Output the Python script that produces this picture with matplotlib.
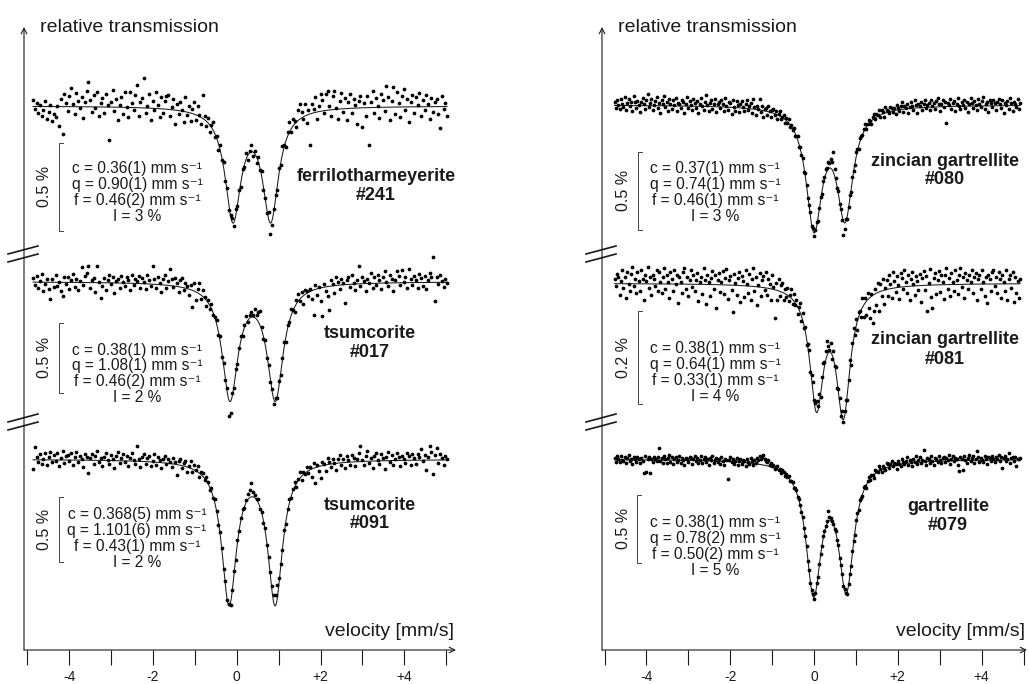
import numpy as np
import matplotlib.pyplot as plt

plt.rcParams['font.family'] = ['Liberation Sans', 'DejaVu Sans']

# --- data -------------------------------------------------------------
# six spectra: left column top->bottom, then right column top->bottom
names = ['ferrilotharmeyerite', 'tsumcorite', 'tsumcorite',
         'zincian gartrellite', 'zincian gartrellite', 'gartrellite']
numbers = ['#241', '#017', '#091', '#080', '#081', '#079']
c_txt = ['0.36(1)', '0.38(1)', '0.368(5)', '0.37(1)', '0.38(1)', '0.38(1)']
q_txt = ['0.90(1)', '1.08(1)', '1.101(6)', '0.74(1)', '0.64(1)', '0.78(2)']
f_txt = ['0.46(2)', '0.46(2)', '0.43(1)', '0.46(1)', '0.33(1)', '0.50(2)']
i_txt = ['3', '2', '2', '3', '4', '5']
scale_bar = [0.5, 0.5, 0.5, 0.5, 0.2, 0.5]  # % transmission

# fitted doublets (mm/s, %), as drawn
c_val = [0.36, 0.38, 0.368, 0.37, 0.38, 0.38]
q_val = [0.90, 1.08, 1.101, 0.74, 0.64, 0.78]
w_val = [0.46, 0.46, 0.43, 0.46, 0.40, 0.44]
depth1 = [0.627, 0.821, 1.088, 0.759, 0.254, 0.955]
depth2 = [0.627, 0.821, 1.088, 0.689, 0.271, 0.925]

# velocity channels (start, stop, count) for each column
vel_left = (-4.86, 5.02, 240)
vel_right = (-4.76, 4.92, 320)

# measured points, deviation from the fit in 0.001 %
res_241 = [
    35, -15, 20, -40, 10, -55, -20, 30, -70, -30, 10, -85, -45, -60, 5, -110, 45, -155, 70, 20,
    -25, 60, 105, 15, -40, 80, 35, -10, 55, -65, 25, 90, 140, 40, -30, 65, -5, 85, -50, 20,
    50, -35, 75, 10, -190, 30, 95, -20, 45, -75, 15, 60, -40, 85, 5, -55, 90, 25, -15, 70,
    130, -45, 35, 55, 170, -30, 10, 80, -65, 40, -10, 95, 20, -50, 65, -25, 45, 75, 80, -35,
    15, 60, -80, 35, -20, 50, 5, -60, 85, -15, 40, -45, 25, 70, -30, 55, 10, -40, 135, 20,
    -25, 30, -40, 15, 45, -20, 10, -35, 25, -10, 30, -15, 20, -30, 5, 25, -20, 35, -5, 15,
    -30, 20, -15, 35, -25, 10, 40, -20, 15, -35, 25, -10, 30, -20, 5, -15, 40, -60, -25, 15,
    20, -25, 30, -15, 45, 10, -35, 25, 55, -20, 40, 15, -30, 60, 85, 35, -10, 70, -45, 25,
    -178, 55, 20, 85, -40, 30, 100, 65, -15, 95, 110, 20, -35, 75, 105, 10, -55, 45, 90, -20,
    60, -65, 35, 80, -25, 50, 15, -90, 40, 70, -110, 25, -45, 65, -212, 30, 95, -30, 55, 10,
    -60, 75, 40, -20, 120, 55, -75, 35, 113, -40, 85, 20, -55, 60, 100, -15, 45, -85, 30, 70,
    -35, 55, 10, 80, -50, 40, -20, 65, 15, -70, 50, -30, 25, 45, -40, -120, 60, -15, 20, -55]
res_017 = [
    30, -20, 45, -40, 10, 55, -65, -15, 25, -50, -117, 20, -35, 50, -25, 5, -60, -100, 35, -10,
    40, -45, 15, 60, -30, 25, -55, 10, 107, -20, 45, 65, 120, -40, 15, 30, -65, 120, 5, -110,
    -25, 35, -50, 20, 55, -10, 40, -70, 15, 30, -35, 50, 10, -20, 45, 25, -45, 60, -15, 35,
    20, 55, -30, 40, 10, -40, 65, 25, -15, 130, 35, -25, 50, 15, -55, 40, 70, -20, 30, 115,
    45, -10, 60, 25, -35, 50, 70, -15, 40, 20, -45, 30, -120, 55, -60, 25, 80, -30, 45, 10,
    -40, 20, -25, 35, -15, 10, 30, -20, 40, -30, 15, -10, 25, -117, -80, 20, -15, 30, -25, 10,
    35, -20, 15, 50, -10, 25, 40, 15, 60, 30, 70, 100, 20, -15, 35, -25, 10, -20, 15, -30,
    25, -15, 30, -20, 10, 35, -40, 20, -10, 45, 5, -35, 25, 50, -15, 40, -55, 30, 15, -25,
    20, -60, -180, 35, -45, 10, -90, -200, 25, -30, -70, -170, 40, 15, -50, 60, 20, -25, 45, 10,
    -130, 35, 55, -20, 65, 10, -40, 30, 125, -15, 50, 20, -55, 35, 5, 75, -30, 45, -10, 60,
    25, -45, 40, 85, 10, -25, 55, 30, -60, 20, 85, 45, -15, 90, 5, 40, -35, 95, 25, -20,
    50, 15, -40, 60, 30, -25, 45, -50, 20, 70, 35, 180, -135, 40, -15, 55, 10, -30, 25, -5]
res_091 = [
    -70, 98, 20, -15, 45, -30, 10, 55, -40, 25, 60, -20, 35, -5, 50, -45, 15, 70, -25, 30,
    40, -10, 55, -35, 20, 65, -15, 30, 5, -50, 45, 25, -95, 15, 50, -25, 35, 75, -10, 20,
    -40, 30, 60, 5, -30, 45, 15, -55, 35, 70, -20, 25, 50, -10, 40, -35, 20, 60, 10, -25,
    118, 15, -40, 35, 55, -15, 25, 45, -30, 10, 65, -20, 40, 20, -45, 30, 55, -10, 35, 15,
    -25, 45, 20, -80, 30, 50, -15, 25, 40, -35, 15, 55, -20, 35, 10, 45, -30, 20, 25, -10,
    30, 15, -20, 25, -10, 35, 5, -25, 20, 10, -15, 30, -5, 15, -20, 10, 25, -15, 20, -10,
    15, 30, -10, 20, 45, 60, 108, 35, 20, 5, 30, -15, 10, -20, 25, -10, 15, 30, 45, 60,
    80, 100, 40, 15, -10, 25, -20, 15, 30, -15, 20, 35, -25, 10, 45, -30, 20, -5, 35, -15,
    25, -60, 40, -120, 15, -35, -90, 30, 10, -45, 50, 20, -25, 40, 5, -55, 35, 60, -15, 25,
    -40, 45, 15, -20, 55, 30, -35, 20, 65, 118, 10, -30, 40, 75, -15, 25, -50, 35, 60, 5,
    -25, 50, 20, -60, 30, 70, -10, 40, -35, 15, 55, 25, -45, 35, 10, -20, 60, 30, -40, 45,
    15, -30, 50, 25, 85, -10, 40, -75, 20, 110, 60, -108, 35, 90, -20, 45, 15, -35, 30, 10]
res_080 = [
    20, -15, 35, 5, -25, 40, 10, -10, 55, -30, 15, 45, -5, 25, -35, 60, 20, -15, 30, 5,
    -40, 25, 50, 10, -20, 35, 75, -10, 15, 40, -25, 5, 30, 55, -15, 20, -45, 35, 10, 65,
    -5, 25, -30, 45, 15, -20, 35, 5, 50, -35, 20, 10, -15, 40, 25, -45, 15, 60, -10, 30,
    5, -25, 45, 20, -10, 35, -40, 15, 55, 0, -20, 30, 75, 10, -30, 25, 40, -15, 20, 50,
    -35, 15, 30, -5, 45, 20, -25, 60, 10, -15, 35, 25, -40, 50, 5, -20, 40, 15, -30, 25,
    45, 10, -20, 30, 55, -10, 20, 40, -25, 64, 15, -35, 25, 5, 70, -15, 30, -40, 10, 20,
    -20, 35, 5, -30, 15, 25, -10, 20, -25, 10, 30, -15, 5, 20, -20, 15, -5, 25, -15, 10,
    -10, 20, -15, 5, 25, -20, 10, -5, 15, -25, 20, 5, -15, 10, 30, -10, 15, -20, 5, 25,
    -15, 10, 20, -10, 25, 15, 35, 20, 45, 30, 60, 50, 128, 40, 15, -10, 20, -15, 5, -25,
    -90, -40, 15, -20, 10, 25, -15, 20, 5, -10, 30, 15, -20, 25, 10, -5, 20, 35, -15, 10,
    25, 5, -20, 15, 30, -10, 20, 5, 35, -15, 25, 10, -25, 40, 15, 5, -10, 30, 20, -5,
    15, -20, 35, 10, -5, 25, 45, -15, 20, 5, 30, -25, 10, 40, 15, -10, 55, 20, -30, 25,
    10, 35, -15, 20, 50, -5, 15, 30, -20, 45, 5, 25, -10, 35, 60, 15, -25, 20, 40, -5,
    30, -107, 25, 10, 45, -15, 20, 35, -30, 15, 55, 5, -20, 30, 10, 40, -10, 25, -35, 15,
    50, 20, -15, 35, 5, -25, 45, 15, -10, 30, 60, -20, 10, 25, -40, 35, 15, -5, 40, 20,
    -30, 25, 45, 10, -15, 35, -45, 20, 5, 30, -20, 50, 15, -35, 25, 10, -10, 40, -25, 15]
res_081 = [
    10, -5, 20, 15, -25, 5, 30, -10, 15, -30, 25, 0, -15, 20, 35, -5, 10, -20, 25, 5,
    -15, 30, 10, -35, 20, 5, 37, -10, 15, -25, 20, 10, -5, 30, -15, 25, 5, -20, 15, 35,
    -10, 20, 5, -30, 25, 10, -15, 30, 0, 20, -40, 15, 5, -20, 25, 35, -10, 15, -25, 10,
    30, -5, 20, -15, 10, 25, -35, 5, 15, -20, 35, 10, -43, 20, 5, -25, 15, 30, -10, 20,
    -50, 10, 25, -15, 5, 30, -20, 15, 35, -30, 10, 20, -10, -57, 25, 5, -20, 15, 30, -35,
    20, 10, -25, 35, 5, -15, 25, -30, 15, 40, -10, 20, -40, 5, 30, -20, 15, 25, -5, 35,
    -15, 20, 10, -25, 30, 5, -60, 15, -20, 25, -10, 15, 20, -15, 10, -5, 15, -10, 5, 20,
    -10, 15, -5, 10, -15, 5, 20, -10, 15, -5, 10, -15, 5, 15, -10, 10, 20, 5, 15, 25,
    10, 20, -5, 15, 25, 10, 20, 32, 15, 5, 20, -10, 15, -5, 10, -15, 5, 10, -10, 15,
    -5, 10, 15, -10, 5, 20, -15, 10, 25, -5, 15, -20, 10, 5, -15, 20, -25, 10, -30, 15,
    -20, -45, 5, -60, -35, 10, -25, 20, -40, 15, -10, 25, -30, 5, 20, -15, 30, 10, -20, 35,
    15, -10, 25, 5, -25, 30, 20, -5, 35, 10, -15, 25, -30, 15, 30, 5, -20, 20, 10, -10,
    25, -35, 15, 30, -10, 20, -55, 5, 35, -25, -50, 15, 25, -20, 10, 30, -15, 20, 5, -30,
    20, 35, -10, 15, -25, 25, 5, -15, 30, 10, -20, 20, 35, -5, 15, -30, 25, 10, -10, 20,
    5, 30, -20, 15, 25, -35, 10, 20, -10, 30, 5, -25, 15, -40, 20, 10, -15, 25, 30, -5,
    15, -20, 25, 10, -30, 20, 5, -15, 30, -35, 10, 20, -10, 25, -40, 15, -20, 5, -30, 10]
res_079 = [
    10, -15, 25, 5, -20, 30, 0, -10, 20, -25, 15, 35, -5, 10, -30, 20, 5, -15, 25, 10,
    -20, 15, -5, -98, 30, -90, 10, 20, -95, 5, -15, 25, 10, -10, 20, 86, -5, 15, -25, 30,
    5, -20, 15, 35, -10, 20, -30, 10, 25, -15, 5, 30, -20, 15, 0, -35, 20, 10, -10, 25,
    15, -25, 10, 30, -5, 20, -15, 5, 35, -20, 10, 25, -10, 15, -30, 20, 5, 40, -15, 10,
    25, -10, 15, -20, 30, 5, -25, 20, 10, -128, 15, 35, -5, 20, -15, 10, 30, -20, 5, 25,
    -10, 20, 15, -25, 30, 10, -5, 35, 20, -15, 25, 5, 45, 30, 60, 40, 55, 74, 50, 35,
    25, 45, 15, 30, 10, 20, -5, 15, 25, 0, 10, -10, 15, 5, -15, 10, -5, 15, -10, 5,
    10, -15, 5, 15, -10, 10, 5, -5, 15, -10, 5, 10, -15, 5, -5, 10, 15, -10, 5, 20,
    -5, 10, 15, 5, 20, 10, 15, 25, 79, 30, 20, 10, 5, -10, 15, -5, 10, -15, 5, 10,
    -10, 15, 5, -15, 10, 20, -5, 15, 10, -20, 25, 15, -10, 20, 5, -15, 30, 10, -20, 15,
    25, -10, 20, 5, -25, 30, 15, -5, 35, 10, -20, 25, 5, -15, 30, 20, -10, 15, 40, -5,
    20, 10, -30, 25, 5, -15, 35, 15, -5, 20, 45, -10, 25, 10, -20, 30, 5, 50, -15, 20,
    35, -5, 15, 88, 10, -20, 30, 20, -10, 40, 5, -25, 25, 15, -5, 35, 10, -15, 20, 30,
    -10, 25, 5, 45, -20, 15, 35, -5, 20, 10, -30, -79, 25, 15, -70, 30, 5, -15, 20, 40,
    -5, 15, 30, -20, 10, 70, 25, -10, 20, 5, -15, 35, 10, -25, 20, 15, -5, 30, 10, -15,
    25, 5, 40, -10, 20, -60, 15, 30, -5, 10, 55, -20, 15, 25, -10, 20, -45, 10, 5, 15]
residuals = [res_241, res_017, res_091, res_080, res_081, res_079]

major_ticks = [-4, -2, 0, 2, 4]
major_labels = ['-4', '-2', '0', '+2', '+4']
minor_ticks = [-5, -3, -1, 1, 3, 5]

# --- layout (pixels of the 1029 x 684 picture) --------------------------
W, H = 1029, 684
zero_px = [236.7, 814.0]
unit_px = 41.9
yaxis_px = [24, 602]
xend_px = [456, 1027]
xaxis_y, yaxis_top = 650, 27
break_px = [254, 422]

baseline_px = [106, 281.7, 459.3, 105, 283.3, 459.3]
px_per_pct = [176, 140, 130, 156, 465, 135]
bar_x = [59, 58.5, 59, 638, 637.5, 637]
bar_top = [142.7, 322.7, 496.7, 151.7, 311, 495]
text_x = [137, 137, 137, 715, 715, 715]
text_y = [167.5, 348.5, 513.5, 167.5, 347.5, 521.5]
label_x = [376, 370, 370, 945, 945, 948]
label_y = [175, 331.5, 503.5, 159.5, 338.5, 505]
line_gap = 15.9

ink = '#1a1a1a'


def vel(px, col):
    return (px - zero_px[col]) / unit_px


def fx(px):
    return px / W


def fy(py):
    return 1 - py / H


def doublet(v, c, q, w, a1, a2):
    hw2 = (w / 2) ** 2
    l1 = hw2 / ((v - (c - q / 2)) ** 2 + hw2)
    l2 = hw2 / ((v - (c + q / 2)) ** 2 + hw2)
    return -(a1 * l1 + a2 * l2)


fig = plt.figure(figsize=(W / 100, H / 100), dpi=100)

# axes frames with arrows and ticks
for col in range(2):
    x0, x1 = yaxis_px[col], xend_px[col]
    rect = [fx(x0), fy(xaxis_y), (x1 - x0) / W, (xaxis_y - yaxis_top) / H]
    ax = fig.add_axes(rect)
    ax.set_xlim(vel(x0, col), vel(x1, col))
    ax.set_ylim(0, 1)
    ax.patch.set_alpha(0)
    for s in ax.spines.values():
        s.set_visible(False)
    ax.set_yticks([])
    ax.set_xticks(major_ticks, labels=major_labels)
    ax.set_xticks(minor_ticks, minor=True)
    ax.tick_params(axis='x', which='both', direction='out', length=11,
                   width=0.8, color=ink, pad=3.5, labelsize=10,
                   labelcolor=ink)
    arrow = dict(arrowstyle='->', lw=0.8, color=ink, shrinkA=0, shrinkB=0,
                 mutation_scale=10)
    ax.annotate('', xy=(1, 0), xytext=(0, 0), xycoords='axes fraction',
                arrowprops=arrow)
    ax.annotate('', xy=(0, 1), xytext=(0, 0), xycoords='axes fraction',
                arrowprops=arrow)

    fig.text(fx(x0 + 16), fy(32), 'relative transmission', fontsize=14,
             ha='left', va='baseline', color=ink)
    fig.text(fx(x1 - 2), fy(636), 'velocity [mm/s]', fontsize=14,
             ha='right', va='baseline', color=ink)

# spectra
for k in range(6):
    col = k // 3
    x0, x1 = yaxis_px[col], xend_px[col]
    rect = [fx(x0), fy(xaxis_y), (x1 - x0) / W, (xaxis_y - yaxis_top) / H]
    sax = fig.add_axes(rect)
    sax.set_xlim(vel(x0, col), vel(x1, col))
    b, s = baseline_px[k], px_per_pct[k]
    sax.set_ylim((b - xaxis_y) / s, (b - yaxis_top) / s)
    sax.axis('off')

    start, stop, n = vel_left if col == 0 else vel_right
    v = np.linspace(start, stop, n)
    vf = np.linspace(start, stop, 1200)
    args = (c_val[k], q_val[k], w_val[k], depth1[k], depth2[k])
    y = doublet(v, *args) + np.array(residuals[k]) * 1e-3
    sax.plot(vf, doublet(vf, *args), color=ink, lw=0.75)
    sax.plot(v, y, 'o', ms=2.7, color='black', mec='none', clip_on=False)

    # scale bar
    xb = vel(bar_x[k], col)
    top = (b - bar_top[k]) / s
    bot = top - scale_bar[k]
    tick = 4 / unit_px
    sax.plot([xb + tick, xb, xb, xb + tick], [top, top, bot, bot],
             color='#444444', lw=0.7)
    sax.text(xb - 14 / unit_px, (top + bot) / 2, f'{scale_bar[k]} %',
             rotation=90, ha='center', va='center', fontsize=11.5, color=ink)

    lines = [f'c = {c_txt[k]} mm s\u207b\u00b9',
             f'q = {q_txt[k]} mm s\u207b\u00b9',
             f'f = {f_txt[k]} mm s\u207b\u00b9',
             f'I = {i_txt[k]} %']
    for j, line in enumerate(lines):
        fig.text(fx(text_x[k]), fy(text_y[k] + 6 + j * line_gap), line,
                 fontsize=11.2, ha='center', va='baseline', color=ink)
    fig.text(fx(label_x[k]), fy(label_y[k] + 6), names[k], fontsize=13,
             fontweight='bold', ha='center', va='baseline', color=ink)
    fig.text(fx(label_x[k]), fy(label_y[k] + 25), numbers[k], fontsize=13,
             fontweight='bold', ha='center', va='baseline', color=ink)

# axis breaks
over = fig.add_axes([0, 0, 1, 1])
over.set_xlim(0, W)
over.set_ylim(H, 0)
over.axis('off')
for xa in yaxis_px:
    for yc in break_px:
        for dy in (-4, 4):
            over.plot([xa - 16, xa + 14], [yc + dy + 4, yc + dy - 4],
                      color=ink, lw=1.2)

fig.savefig('out.png', dpi=100)
